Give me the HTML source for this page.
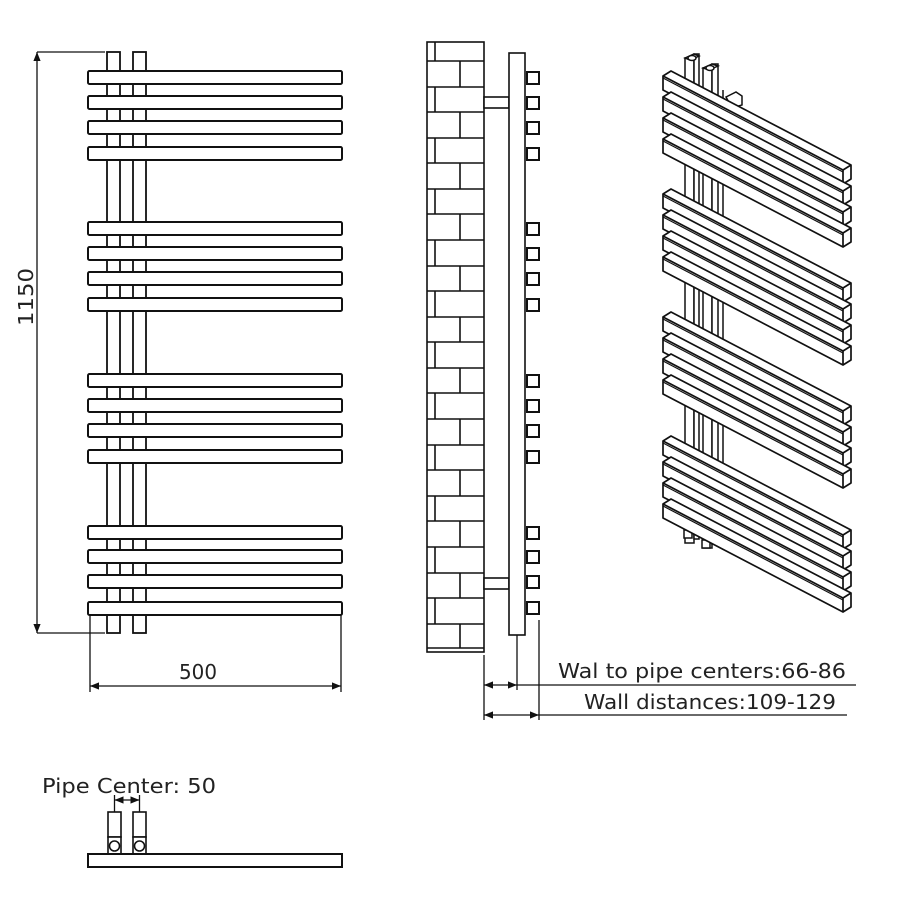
<!DOCTYPE html>
<html><head><meta charset="utf-8"><style>
html,body{margin:0;padding:0;background:#fff;}
svg{display:block;}
text{font-family:"DejaVu Sans","Liberation Sans",sans-serif;fill:#222;}
</style></head><body>
<svg width="900" height="900" viewBox="0 0 900 900" xmlns="http://www.w3.org/2000/svg">
<defs>
<marker id="ar" viewBox="0 0 10 10" refX="10" refY="5" markerWidth="7" markerHeight="7" orient="auto-start-reverse"><path d="M0,1 L10,5 L0,9 z" fill="#111"/></marker>
<g id="rail" fill="#fff" stroke="#111" stroke-width="2" stroke-linejoin="round">
<rect x="88" y="0" width="254" height="13" rx="1.5"/>
</g>
<g id="ibar" fill="#fff" stroke="#111" stroke-width="1.7" stroke-linejoin="round">
<polygon points="0,14 0,0 8,-5 188,89 188,103 180,108"/>
<polyline points="0,0 180,94 180,108" fill="none"/>
<line x1="180" y1="94" x2="188" y2="89"/>
<line x1="0" y1="2" x2="180" y2="96" stroke-width="1.2"/>
</g>
<g id="knob" fill="#fff" stroke="#111" stroke-width="2">
<rect x="527" y="0" width="12" height="12"/>
</g>
</defs>

<!-- FRONT VIEW -->
<g fill="#fff" stroke="#111" stroke-width="1.8">
<rect x="107" y="52" width="13" height="581"/>
<rect x="133" y="52" width="13" height="581"/>
</g>
<use href="#rail" y="71"/><use href="#rail" y="96"/><use href="#rail" y="121"/><use href="#rail" y="147"/>
<use href="#rail" y="222"/><use href="#rail" y="247"/><use href="#rail" y="272"/><use href="#rail" y="298"/>
<use href="#rail" y="374"/><use href="#rail" y="399"/><use href="#rail" y="424"/><use href="#rail" y="450"/>
<use href="#rail" y="526"/><use href="#rail" y="550"/><use href="#rail" y="575"/><use href="#rail" y="602"/>
<g stroke="#111" stroke-width="1.3" fill="none">
<line x1="37" y1="52" x2="105" y2="52"/>
<line x1="37" y1="633" x2="105" y2="633"/>
<line x1="37" y1="52" x2="37" y2="633" marker-start="url(#ar)" marker-end="url(#ar)"/>
<line x1="90" y1="615" x2="90" y2="692"/>
<line x1="341" y1="615" x2="341" y2="692"/>
<line x1="90" y1="686" x2="341" y2="686" marker-start="url(#ar)" marker-end="url(#ar)"/>
</g>
<text x="0" y="0" font-size="20" textLength="58" lengthAdjust="spacingAndGlyphs" transform="translate(33,326) rotate(-90)">1150</text>
<text x="179" y="679" font-size="20" textLength="38" lengthAdjust="spacingAndGlyphs">500</text>

<!-- SIDE VIEW -->
<g stroke="#111" stroke-width="1.6" fill="none">
<rect x="427" y="42" width="57" height="610" fill="#fff"/>
<line x1="427" y1="61" x2="484" y2="61"/><line x1="427" y1="87" x2="484" y2="87"/><line x1="427" y1="112" x2="484" y2="112"/><line x1="427" y1="138" x2="484" y2="138"/><line x1="427" y1="163" x2="484" y2="163"/><line x1="427" y1="189" x2="484" y2="189"/><line x1="427" y1="214" x2="484" y2="214"/><line x1="427" y1="240" x2="484" y2="240"/><line x1="427" y1="266" x2="484" y2="266"/><line x1="427" y1="291" x2="484" y2="291"/><line x1="427" y1="317" x2="484" y2="317"/><line x1="427" y1="342" x2="484" y2="342"/><line x1="427" y1="368" x2="484" y2="368"/><line x1="427" y1="393" x2="484" y2="393"/><line x1="427" y1="419" x2="484" y2="419"/><line x1="427" y1="445" x2="484" y2="445"/><line x1="427" y1="470" x2="484" y2="470"/><line x1="427" y1="496" x2="484" y2="496"/><line x1="427" y1="521" x2="484" y2="521"/><line x1="427" y1="547" x2="484" y2="547"/><line x1="427" y1="573" x2="484" y2="573"/><line x1="427" y1="598" x2="484" y2="598"/><line x1="427" y1="624" x2="484" y2="624"/><line x1="427" y1="648" x2="484" y2="648"/>
<line x1="435" y1="42" x2="435" y2="61"/><line x1="460" y1="61" x2="460" y2="87"/><line x1="435" y1="87" x2="435" y2="112"/><line x1="460" y1="112" x2="460" y2="138"/><line x1="435" y1="138" x2="435" y2="163"/><line x1="460" y1="163" x2="460" y2="189"/><line x1="435" y1="189" x2="435" y2="214"/><line x1="460" y1="214" x2="460" y2="240"/><line x1="435" y1="240" x2="435" y2="266"/><line x1="460" y1="266" x2="460" y2="291"/><line x1="435" y1="291" x2="435" y2="317"/><line x1="460" y1="317" x2="460" y2="342"/><line x1="435" y1="342" x2="435" y2="368"/><line x1="460" y1="368" x2="460" y2="393"/><line x1="435" y1="393" x2="435" y2="419"/><line x1="460" y1="419" x2="460" y2="445"/><line x1="435" y1="445" x2="435" y2="470"/><line x1="460" y1="470" x2="460" y2="496"/><line x1="435" y1="496" x2="435" y2="521"/><line x1="460" y1="521" x2="460" y2="547"/><line x1="435" y1="547" x2="435" y2="573"/><line x1="460" y1="573" x2="460" y2="598"/><line x1="435" y1="598" x2="435" y2="624"/><line x1="460" y1="624" x2="460" y2="648"/>
<rect x="484" y="97" width="25" height="11" fill="#fff"/>
<rect x="484" y="578" width="25" height="11" fill="#fff"/>
<rect x="509" y="53" width="16" height="582" fill="#fff"/>
</g>
<use href="#knob" y="72"/><use href="#knob" y="97"/><use href="#knob" y="122"/><use href="#knob" y="148"/>
<use href="#knob" y="223"/><use href="#knob" y="248"/><use href="#knob" y="273"/><use href="#knob" y="299"/>
<use href="#knob" y="375"/><use href="#knob" y="400"/><use href="#knob" y="425"/><use href="#knob" y="451"/>
<use href="#knob" y="527"/><use href="#knob" y="551"/><use href="#knob" y="576"/><use href="#knob" y="602"/>
<g stroke="#111" stroke-width="1.3" fill="none">
<line x1="484" y1="655" x2="484" y2="720"/>
<line x1="517" y1="635" x2="517" y2="690"/>
<line x1="539" y1="620" x2="539" y2="720"/>
<line x1="484" y1="685" x2="517" y2="685" marker-start="url(#ar)" marker-end="url(#ar)"/>
<line x1="517" y1="685" x2="856" y2="685"/>
<line x1="484" y1="715" x2="539" y2="715" marker-start="url(#ar)" marker-end="url(#ar)"/>
<line x1="539" y1="715" x2="847" y2="715"/>
</g>
<text x="558" y="678" font-size="20" textLength="288" lengthAdjust="spacingAndGlyphs">Wal to pipe centers:66-86</text>
<text x="584" y="709" font-size="20" textLength="252" lengthAdjust="spacingAndGlyphs">Wall distances:109-129</text>

<!-- ISO VIEW -->
<g stroke="#111" stroke-width="1.5" fill="#fff">
<rect x="685" y="58" width="9" height="485"/>
<rect x="694" y="54" width="5" height="485"/>
<rect x="703" y="68" width="9" height="480"/>
<rect x="712" y="64" width="6" height="480"/>
<line x1="723" y1="90" x2="723" y2="550"/>
<polygon points="685,58 694,54 699,56 690,60"/>
<ellipse cx="692" cy="58" rx="4" ry="2.5"/>
<polygon points="703,68 712,64 718,66 709,70"/>
<ellipse cx="710" cy="68" rx="4" ry="2.5"/>
<polygon points="726,97 736,92 742,96 742,105 732,108"/>
<rect x="684" y="530" width="8" height="8"/>
<rect x="702" y="540" width="8" height="8"/>
</g>
<use href="#ibar" x="663" y="76"/><use href="#ibar" x="663" y="97"/><use href="#ibar" x="663" y="118"/><use href="#ibar" x="663" y="139"/>
<use href="#ibar" x="663" y="194"/><use href="#ibar" x="663" y="215"/><use href="#ibar" x="663" y="236"/><use href="#ibar" x="663" y="257"/>
<use href="#ibar" x="663" y="317"/><use href="#ibar" x="663" y="338"/><use href="#ibar" x="663" y="359"/><use href="#ibar" x="663" y="380"/>
<use href="#ibar" x="663" y="441"/><use href="#ibar" x="663" y="462"/><use href="#ibar" x="663" y="483"/><use href="#ibar" x="663" y="504"/>

<!-- BOTTOM VIEW -->
<text x="42" y="793" font-size="20" textLength="174" lengthAdjust="spacingAndGlyphs">Pipe Center: 50</text>
<g stroke="#111" stroke-width="1.6" fill="#fff">
<rect x="108" y="812" width="13" height="25"/>
<rect x="108" y="837" width="13" height="17"/>
<circle cx="114.5" cy="846" r="5"/>
<rect x="133" y="812" width="13" height="25"/>
<rect x="133" y="837" width="13" height="17"/>
<circle cx="139.5" cy="846" r="5"/>
<rect x="88" y="854" width="254" height="13" stroke-width="2"/>
</g>
<g stroke="#111" stroke-width="1.3" fill="none">
<line x1="114.5" y1="795" x2="114.5" y2="812"/>
<line x1="139.5" y1="795" x2="139.5" y2="812"/>
<line x1="114.5" y1="800" x2="139.5" y2="800" marker-start="url(#ar)" marker-end="url(#ar)"/>
</g>
</svg>
</body></html>
